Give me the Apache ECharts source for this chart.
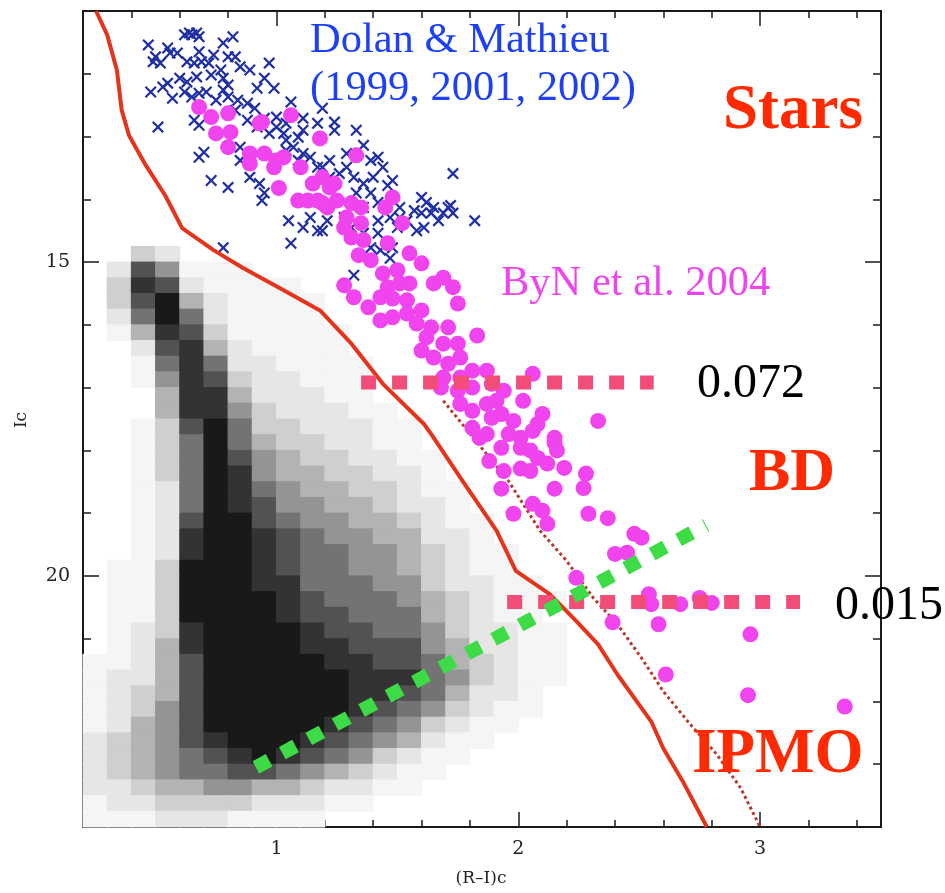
<!DOCTYPE html>
<html>
<head>
<meta charset="utf-8">
<script src="https://cdn.jsdelivr.net/npm/echarts@6/dist/echarts.min.js"></script>
<style>
html,body{margin:0;padding:0;background:#fff;}
#c{width:945px;height:893px;}
</style>
</head>
<body>
<div id="c"></div>
<script>
// ---------- data ----------
const xTickLabels = [1, 2, 3];
const yTickLabels = [15, 20];

// Density of the field-star cloud (black dots).
// Columns: (R-I)c 0.2..2.6 in steps of 0.1; rows: Ic 14.75..24 in steps of 0.25; digit 0..9
const cloudXStart = 0.2, cloudXStep = 0.1, cloudYStart = 14.75, cloudYStep = 0.25;
const cloudRows = [
"003200000000000000000000",
"027511100000000000000000",
"038721111000000000000000",
"037942111100000000000000",
"026962111100000000000000",
"014873111110000000000000",
"002784211110000000000000",
"001686221111000000000000",
"001587322111000000000000",
"000488422211000000000000",
"000488532221100000000000",
"001379633222110000000000",
"001369643322110000000000",
"001369754332211000000000",
"001369854433221000000000",
"001269865443321100000000",
"001269875544322100000000",
"001279976554432110000000",
"001289987655442210000000",
"001289987665543211000000",
"011399987665543211000000",
"011399988666553221100000",
"011399998766654321110000",
"011399998776664321100000",
"012389999877665322110000",
"012489999887775422110000",
"112479999988776432110000",
"122479999998886532110000",
"123479999998876422100000",
"123579999998765321100000",
"124579999987653211000000",
"234578999876542110000000",
"234567898765321100000000",
"234566776543211000000000",
"223445544322110000000000",
"122333322211000000000000",
"111222111100000000000000"
];

// Dolan & Mathieu (blue crosses)
const dolanMathieu = [
[0.47,11.54],[0.50,11.73],[0.49,11.81],[0.52,11.83],[0.55,11.59],[0.56,11.67],[0.59,11.67],[0.62,11.38],[0.65,11.38],[0.68,11.41],
[0.63,11.81],[0.66,11.83],[0.69,11.81],[0.72,11.83],[0.68,11.65],[0.74,11.70],[0.78,11.51],[0.82,11.41],[0.80,11.73],[0.83,11.73],
[0.77,11.94],[0.78,12.07],[0.73,12.02],[0.67,12.05],[0.63,12.13],[0.55,12.15],[0.53,12.21],[0.48,12.29],[0.57,12.39],[0.62,12.29],
[0.65,12.37],[0.68,12.31],[0.71,12.29],[0.75,12.42],[0.78,12.26],[0.80,12.18],[0.84,12.42],[0.88,12.47],[0.92,12.23],[0.95,12.07],
[0.97,11.83],[0.99,12.23],[0.91,12.55],[0.88,12.74],[0.92,12.85],[0.95,12.71],[0.97,12.95],[1.00,12.85],[1.03,12.95],[1.06,12.45],
[1.04,13.06],[1.09,13.01],[1.11,12.90],[1.11,12.71],[1.17,12.79],[1.24,12.77],[1.19,12.55],[1.07,13.17],[1.04,13.22],[1.11,13.27],
[1.09,13.38],[1.14,13.33],[0.85,13.17],[0.85,13.38],[0.66,12.74],[0.68,12.82],[0.51,12.85],[0.68,13.33],[0.70,13.25],[0.73,13.70],
[0.80,13.81],[0.89,13.65],[0.93,13.75],[0.94,14.02],[0.95,13.90],[1.19,13.49],[1.22,13.65],[1.29,13.49],[1.33,12.90],[1.36,13.14],
[1.39,13.38],[1.42,13.33],[1.32,13.65],[1.36,13.75],[1.40,13.65],[1.46,13.78],[1.39,13.90],[1.42,14.05],[1.33,13.90],[1.36,14.13],
[1.42,14.34],[1.47,14.29],[1.50,14.45],[1.54,14.34],[1.58,14.50],[1.60,13.97],[1.62,14.05],[1.65,14.13],[1.69,14.22],[1.72,14.10],
[1.73,14.22],[1.67,14.34],[1.60,14.22],[1.64,14.22],[1.73,13.59],[1.82,14.34],[1.05,14.34],[1.14,14.29],[1.11,14.45],[1.17,14.50],
[1.21,14.34],[1.28,14.29],[1.31,14.45],[1.36,14.54],[1.42,14.54],[0.78,14.77],[1.06,14.70],[0.64,11.35],[0.67,11.35],[1.48,14.77],
[1.47,14.94],[1.32,15.21],[1.39,14.77],[1.43,14.81],[1.19,14.50],[1.71,14.13],[1.51,14.29],[0.85,11.89],[0.89,11.94],[0.60,12.07],
[0.80,12.37],[0.83,12.58],[1.00,12.69],[1.04,12.79],[1.24,12.90],[1.29,13.27],[1.22,13.38],[1.17,13.49],[1.26,13.59],[1.44,13.49],
[1.48,13.70],[1.51,14.13],[1.57,14.18],[1.61,14.45]
];

// ByN et al. 2004 (magenta dots)
const byn2004 = [
[0.68,12.53],[0.73,12.69],[0.80,12.63],[0.75,12.95],[0.81,12.93],[0.80,13.17],[0.94,12.77],[1.06,12.66],[0.89,13.27],[0.89,13.43],
[0.95,13.27],[1.00,13.38],[1.03,13.33],[1.10,13.49],[1.18,13.03],[1.33,13.30],[1.01,13.82],[1.09,14.02],[1.15,13.75],[1.19,13.65],
[1.22,13.81],[1.17,14.02],[1.25,14.02],[1.31,14.06],[1.21,14.13],[1.29,14.29],[1.48,13.97],[1.45,14.13],[1.52,14.38],[1.28,14.45],
[1.35,14.38],[1.36,14.65],[1.31,14.61],[1.46,14.70],[1.55,14.86],[1.24,13.75],[1.13,14.02],[1.19,14.06],[1.35,14.13],[1.34,14.89],
[1.39,14.97],[1.60,15.02],[1.28,15.37],[1.32,15.56],[1.38,15.72],[1.44,15.18],[1.50,15.13],[1.51,15.34],[1.46,15.40],[1.43,15.56],
[1.48,15.58],[1.55,15.34],[1.54,15.61],[1.65,15.34],[1.69,15.25],[1.73,15.40],[1.75,15.66],[1.43,15.93],[1.48,15.88],[1.54,15.82],
[1.60,15.77],[1.58,15.98],[1.64,16.04],[1.71,16.04],[1.62,16.20],[1.69,16.30],[1.75,16.30],[1.83,16.17],[1.60,16.41],[1.65,16.52],
[1.71,16.62],[1.76,16.52],[1.81,16.73],[1.87,16.73],[1.69,16.84],[1.76,16.84],[2.06,16.78],[1.68,17.00],[1.75,17.05],[1.81,17.00],
[1.89,16.94],[1.94,17.05],[2.02,17.21],[1.76,17.26],[1.81,17.37],[1.87,17.26],[1.93,17.42],[1.98,17.53],[2.10,17.42],[2.33,17.53],
[1.81,17.64],[1.87,17.74],[1.96,17.74],[2.01,17.80],[2.06,17.69],[2.15,17.80],[1.91,17.21],[1.89,17.48],[2.08,17.58],[1.84,17.80],
[1.88,18.17],[1.93,17.96],[2.01,17.96],[2.05,18.00],[2.08,18.12],[2.15,17.88],[2.16,18.00],[2.12,18.21],[2.19,18.28],[2.01,18.29],
[2.05,18.33],[1.94,18.33],[2.28,18.37],[1.93,18.61],[2.15,18.61],[2.27,18.60],[1.98,19.01],[2.06,18.85],[2.10,18.96],[2.12,19.17],
[2.29,19.01],[2.37,19.08],[2.48,19.33],[2.51,19.39],[2.40,19.65],[2.45,19.63],[2.24,20.03],[2.54,20.29],[2.55,20.45],[2.67,20.45],
[2.75,20.35],[2.80,20.43],[2.39,20.74],[2.58,20.77],[2.96,20.93],[2.61,21.57],[2.95,21.90],[3.35,22.08],[0.99,13.49],[0.93,12.79]
];

// Isochrone (solid red) and second track (dotted dark red)
const isochroneSolid = [
[0.254,11.00],[0.30,11.38],[0.34,11.94],[0.36,12.58],[0.39,12.98],[0.46,13.46],[0.54,13.94],[0.61,14.46],[0.74,14.81],[0.86,15.09],
[1.03,15.45],[1.18,15.77],[1.31,16.30],[1.44,16.94],[1.61,17.58],[1.64,17.74],[1.77,18.49],[1.91,19.28],[1.99,19.92],[2.05,20.08],
[2.13,20.29],[2.24,20.72],[2.33,21.09],[2.41,21.57],[2.55,22.32],[2.60,22.75],[2.68,23.27],[2.78,24.00]
];
const isochroneDotted = [
[1.69,17.21],[1.96,18.49],[2.09,19.28],[2.20,19.76],[2.31,20.35],[2.41,20.77],[2.51,21.31],[2.60,21.84],[2.71,22.36],[2.82,22.84],
[2.92,23.38],[3.00,24.00]
];

// Mass limits (pink dashed) and reddening vector (green dotted)
const limit0072 = [[1.35,16.92],[2.56,16.92]];
const limit0015 = [[1.954,20.415],[3.165,20.415]];
const reddening = [[0.915,23.05],[2.776,19.19]];

// ---------- chart ----------
const G = {left:83, top:11, right:64, bottom:66};
const W = 945, H = 893;
const xMin = 0.2, xMax = 3.5, yMin = 11, yMax = 24;
const pxX = (W - G.left - G.right) / (xMax - xMin);
const pxY = (H - G.top - G.bottom) / (yMax - yMin);

// ink coverage for density digits 0..9
const coverage = [0, 0.04, 0.1, 0.19, 0.3, 0.42, 0.55, 0.68, 0.8, 0.9];
const cloudData = [];
cloudRows.forEach((row, r) => {
  for (let c = 0; c < row.length; c++) {
    const d = +row[c];
    if (d > 0) {
      const g = Math.round(255 * (1 - coverage[d]));
      cloudData.push({
        value: [cloudXStart + cloudXStep * (c + 0.5), cloudYStart + cloudYStep * (r + 0.5)],
        itemStyle: {color: 'rgb(' + g + ',' + g + ',' + g + ')', opacity: 1}
      });
    }
  }
});

const axisCol = '#1a1a1a';
const labelFont = {fontFamily: 'DejaVu Serif', fontSize: 19, color: '#222'};
function xAx(pos, major, withLabel) {
  return {
    type: 'value', min: xMin, max: xMax, interval: 0.2, position: pos,
    axisLine: {show: !major, onZero: false, lineStyle: {color: axisCol, width: 2}},
    axisTick: major ? {show: true, inside: true, length: 15, customValues: xTickLabels, lineStyle: {color: axisCol, width: 1.5}}
                    : {show: true, inside: true, length: 7, lineStyle: {color: axisCol, width: 1.5}},
    axisLabel: withLabel ? Object.assign({show: true, margin: 13, customValues: xTickLabels}, labelFont) : {show: false},
    splitLine: {show: false}
  };
}
function yAx(pos, major, withLabel) {
  return {
    type: 'value', min: yMin, max: yMax, interval: 1, inverse: true, position: pos,
    axisLine: {show: !major, onZero: false, lineStyle: {color: axisCol, width: 2}},
    axisTick: major ? {show: true, inside: true, length: 16, customValues: yTickLabels, lineStyle: {color: axisCol, width: 1.5}}
                    : {show: true, inside: true, length: 8, lineStyle: {color: axisCol, width: 1.5}},
    axisLabel: withLabel ? Object.assign({show: true, margin: 13, customValues: yTickLabels}, labelFont) : {show: false},
    splitLine: {show: false}
  };
}

const crossPath = 'path://M1.3,0L5,3.7L8.7,0L10,1.3L6.3,5L10,8.7L8.7,10L5,6.3L1.3,10L0,8.7L3.7,5L0,1.3Z';
const serif = '"Liberation Serif", "Times New Roman", serif';

const chart = echarts.init(document.getElementById('c'), null, {renderer: 'canvas'});
chart.setOption({
  animation: false,
  backgroundColor: '#ffffff',
  grid: {left: G.left, top: G.top, right: G.right, bottom: G.bottom, containLabel: false},
  xAxis: [xAx('bottom', false, true), xAx('bottom', true, false), xAx('top', false, false), xAx('top', true, false)],
  yAxis: [yAx('left', false, true), yAx('left', true, false), yAx('right', false, false), yAx('right', true, false)],
  series: [
    {type: 'scatter', name: 'field', data: cloudData, symbol: 'rect',
     symbolSize: [cloudXStep * pxX + 1, cloudYStep * pxY + 1], itemStyle: {opacity: 1}, z: 1, silent: true},
    {type: 'scatter', name: 'Dolan & Mathieu', data: dolanMathieu, symbol: crossPath, symbolSize: 12,
     itemStyle: {color: '#1f2ea3', opacity: 1}, z: 2},
    {type: 'line', name: 'iso', data: isochroneSolid, showSymbol: false, symbol: 'none',
     lineStyle: {color: '#e4341c', width: 4}, z: 3},
    {type: 'line', name: 'iso2', data: isochroneDotted, showSymbol: false, symbol: 'none',
     lineStyle: {color: '#b83a2a', width: 3, type: [3, 3]}, z: 3},
    {type: 'scatter', name: 'ByN 2004', data: byn2004, symbol: 'circle', symbolSize: 16,
     itemStyle: {color: '#f044ee', opacity: 1}, z: 4},
    {type: 'line', name: '0.072', data: limit0072, showSymbol: false, symbol: 'none',
     lineStyle: {color: '#f24d78', width: 14, type: [15, 16], cap: 'butt'}, z: 5},
    {type: 'line', name: '0.015', data: limit0015, showSymbol: false, symbol: 'none',
     lineStyle: {color: '#f24d78', width: 14, type: [15, 16], cap: 'butt'}, z: 5},
    {type: 'line', name: 'reddening', data: reddening, showSymbol: false, symbol: 'none',
     lineStyle: {color: '#3ddc46', width: 14, type: [15, 15], cap: 'butt'}, z: 5}
  ],
  graphic: [
    {type: 'text', x: 310, y: 41, z: 10, style: {text: 'Dolan & Mathieu', font: '42.5px ' + serif, fill: '#1e40f5', textVerticalAlign: 'middle'}},
    {type: 'text', x: 310, y: 89, z: 10, style: {text: '(1999, 2001, 2002)', font: '42.5px ' + serif, fill: '#1e40f5', textVerticalAlign: 'middle'}},
    {type: 'text', x: 723, y: 112, z: 10, style: {text: 'Stars', font: 'bold 63px ' + serif, fill: '#ff2a00', textVerticalAlign: 'middle'}},
    {type: 'text', x: 501, y: 284, z: 10, style: {text: 'ByN et al. 2004', font: '42.5px ' + serif, fill: '#f044ee', textVerticalAlign: 'middle'}},
    {type: 'text', x: 697, y: 384, z: 10, style: {text: '0.072', font: '48px ' + serif, fill: '#000', textVerticalAlign: 'middle'}},
    {type: 'text', x: 749, y: 474, z: 10, style: {text: 'BD', font: 'bold 62px ' + serif, fill: '#ff2a00', textVerticalAlign: 'middle'}},
    {type: 'text', x: 835, y: 606, z: 10, style: {text: '0.015', font: '48px ' + serif, fill: '#000', textVerticalAlign: 'middle'}},
    {type: 'text', x: 692, y: 756, z: 10, style: {text: 'IPMO', font: 'bold 63px ' + serif, fill: '#ff2a00', textVerticalAlign: 'middle'}},
    {type: 'text', x: 22, y: 420, rotation: Math.PI / 2, z: 10, style: {text: 'Ic', font: '17px "DejaVu Serif"', fill: '#222', textAlign: 'center', textVerticalAlign: 'middle'}},
    {type: 'text', x: 481, y: 879, z: 10, style: {text: '(R\u2013I)c', font: '17px "DejaVu Serif"', fill: '#222', textAlign: 'center', textVerticalAlign: 'middle'}}
  ]
});
</script>
</body>
</html>
